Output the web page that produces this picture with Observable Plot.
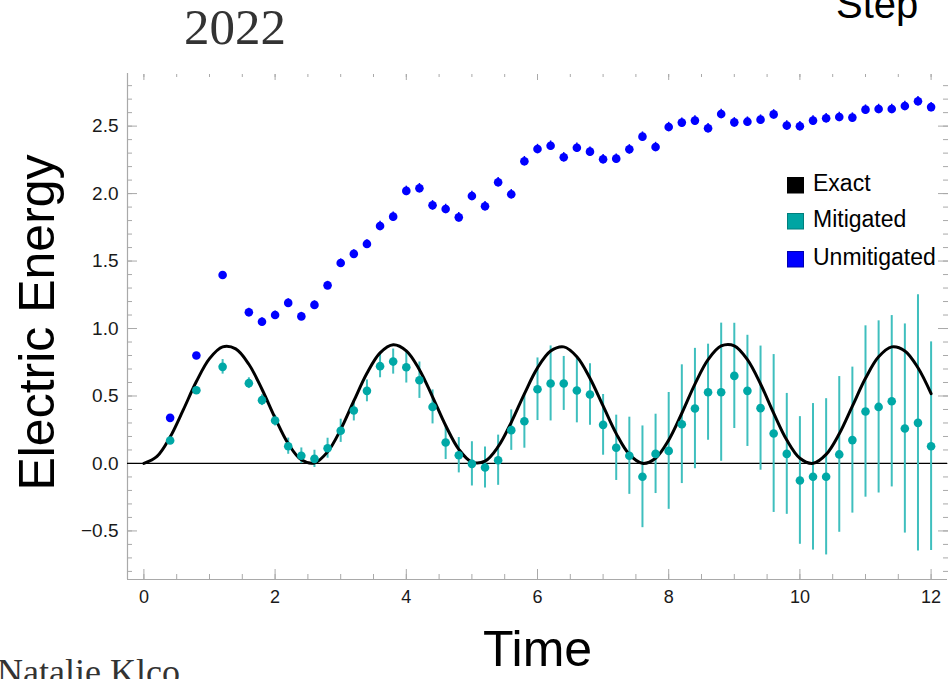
<!DOCTYPE html>
<html>
<head>
<meta charset="utf-8">
<script src="https://cdn.jsdelivr.net/npm/d3@7"></script>
<script src="https://cdn.jsdelivr.net/npm/@observablehq/plot@0.6"></script>
<style>
  html, body { margin: 0; padding: 0; background: #fff; }
  #wrap { position: relative; width: 948px; height: 679px; overflow: hidden; background: #fff; }
  #wrap > svg { position: absolute; left: 0; top: 0; }
</style>
</head>
<body>
<div id="wrap"></div>
<script>
// ---------- data ----------
const exactT = [0,0.2,0.4,0.6,0.8,1.0,1.2,1.4,1.6,1.8,2.0,2.2,2.4,2.6,2.8,3.0,3.2,3.4,3.6,3.8,4.0,4.2,4.4,4.6,4.8,5.0,5.2,5.4,5.6,5.8,6.0,6.2,6.4,6.6,6.8,7.0,7.2,7.4,7.6,7.8,8.0,8.2,8.4,8.6,8.8,9.0,9.2,9.4,9.6,9.8,10.0,10.2,10.4,10.6,10.8,11.0,11.2,11.4,11.6,11.8,12.0];
const exactE = [0,0.052,0.196,0.397,0.607,0.777,0.864,0.849,0.735,0.550,0.337,0.147,0.027,0.004,0.086,0.252,0.463,0.669,0.820,0.880,0.835,0.695,0.494,0.281,0.105,0.010,0.017,0.124,0.305,0.516,0.708,0.833,0.864,0.791,0.632,0.426,0.221,0.067,0.001,0.039,0.173,0.372,0.588,0.769,0.871,0.872,0.769,0.589,0.373,0.174,0.039,0.001,0.067,0.220,0.425,0.631,0.790,0.864,0.834,0.709,0.517];

const times = [0.4,0.8,1.2,1.6,1.8,2.0,2.2,2.4,2.6,2.8,3.0,3.2,3.4,3.6,3.8,4.0,4.2,4.4,4.6,4.8,5.0,5.2,5.4,5.6,5.8,6.0,6.2,6.4,6.6,6.8,7.0,7.2,7.4,7.6,7.8,8.0,8.2,8.4,8.6,8.8,9.0,9.2,9.4,9.6,9.8,10.0,10.2,10.4,10.6,10.8,11.0,11.2,11.4,11.6,11.8,12.0];

const mitigated = [0.170,0.543,0.716,0.595,0.469,0.318,0.128,0.057,0.034,0.113,0.242,0.392,0.538,0.721,0.755,0.713,0.617,0.419,0.155,0.061,-0.003,-0.030,0.024,0.247,0.313,0.550,0.593,0.593,0.541,0.511,0.286,0.116,0.057,-0.099,0.071,0.093,0.291,0.407,0.528,0.528,0.649,0.538,0.410,0.222,0.071,-0.126,-0.099,-0.099,0.067,0.173,0.385,0.419,0.461,0.259,0.301,0.128];
const mitigatedErr = [0.010,0.020,0.054,0.040,0.040,0.040,0.060,0.058,0.064,0.074,0.086,0.077,0.081,0.086,0.093,0.117,0.135,0.126,0.126,0.131,0.164,0.152,0.186,0.150,0.200,0.232,0.278,0.200,0.240,0.228,0.225,0.242,0.286,0.377,0.294,0.433,0.440,0.446,0.356,0.512,0.390,0.412,0.460,0.585,0.448,0.473,0.543,0.579,0.577,0.541,0.635,0.638,0.635,0.775,0.950,0.773];

const unmitigated = [0.338,0.800,1.397,1.120,1.050,1.100,1.190,1.090,1.175,1.320,1.486,1.553,1.627,1.760,1.829,2.020,2.040,1.913,1.886,1.824,1.982,1.906,2.084,1.995,2.240,2.330,2.355,2.269,2.340,2.311,2.254,2.259,2.328,2.422,2.345,2.493,2.526,2.541,2.484,2.590,2.528,2.533,2.548,2.587,2.504,2.499,2.541,2.558,2.568,2.563,2.622,2.627,2.627,2.649,2.684,2.641];
const unmitigatedErr = [0.01,0.01,0.02,0.03,0.03,0.03,0.03,0.03,0.03,0.03,0.03,0.03,0.03,0.035,0.035,0.035,0.035,0.035,0.035,0.035,0.035,0.035,0.035,0.035,0.035,0.035,0.035,0.035,0.035,0.035,0.035,0.035,0.035,0.035,0.035,0.035,0.035,0.035,0.035,0.035,0.035,0.035,0.035,0.035,0.035,0.035,0.035,0.035,0.035,0.035,0.035,0.035,0.035,0.035,0.035,0.035];

const xMajor = [0,2,4,6,8,10,12];
const xMinor = [0,0.5,1,1.5,2,2.5,3,3.5,4,4.5,5,5.5,6,6.5,7,7.5,8,8.5,9,9.5,10,10.5,11,11.5,12];
const yMajor = [-0.5,0,0.5,1.0,1.5,2.0,2.5];
const yMinor = [-0.8,-0.7,-0.6,-0.5,-0.4,-0.3,-0.2,-0.1,0,0.1,0.2,0.3,0.4,0.5,0.6,0.7,0.8,0.9,1.0,1.1,1.2,1.3,1.4,1.5,1.6,1.7,1.8,1.9,2.0,2.1,2.2,2.3,2.4,2.5,2.6,2.7,2.8];

const legendLabels = ["Exact", "Mitigated", "Unmitigated"];
const legendColors = ["#000000", "#00a5a3", "#0000ff"];
const legendBorders = ["#000000", "#007f7d", "#0000b0"];

const xDomain = [-0.25, 12.25];
const yDomain = [-0.86, 2.89];

// ---------- build tables ----------
const exact = exactT.map((t, i) => ({t, e: exactE[i]}));
const mit = times.map((t, i) => ({t, y: mitigated[i], err: mitigatedErr[i]}));
const unm = times.map((t, i) => ({t, y: unmitigated[i], err: unmitigatedErr[i]}));

const frameGray = "#a9a9a9";
const tealDot = "#00a8a6";
const tealBar = "#3fbfbe";
const blue = "#0000ff";
const fmtY = d => (d < 0 ? "\u2212" + Math.abs(d).toFixed(1) : d.toFixed(1));

const chart = Plot.plot({
  width: 948,
  height: 679,
  marginLeft: 127,
  marginRight: 1,
  marginTop: 73,
  marginBottom: 100,
  x: {domain: xDomain},
  y: {domain: yDomain},
  style: {fontFamily: "'Liberation Sans', Arial, sans-serif", background: "transparent", overflow: "visible"},
  marks: [
    // frame lines (left and bottom)
    Plot.ruleX([xDomain[0]], {stroke: frameGray, strokeWidth: 1.2}),
    Plot.ruleY([yDomain[0]], {stroke: frameGray, strokeWidth: 1.2}),
    // inward ticks
    Plot.axisX(xMinor, {anchor: "bottom", tickSize: -5, tickFormat: () => "", stroke: frameGray, label: null}),
    Plot.axisX(xMajor, {anchor: "bottom", tickSize: -10, tickFormat: () => "", stroke: frameGray, label: null}),
    Plot.axisX(xMinor, {anchor: "top", tickSize: -3, tickFormat: () => "", stroke: frameGray, label: null}),
    Plot.axisX(xMajor, {anchor: "top", tickSize: -6, tickFormat: () => "", stroke: frameGray, label: null}),
    Plot.axisY(yMinor, {anchor: "left", tickSize: -5, tickFormat: () => "", stroke: frameGray, label: null}),
    Plot.axisY(yMajor, {anchor: "left", tickSize: -10, tickFormat: () => "", stroke: frameGray, label: null}),
    Plot.axisY(yMinor, {anchor: "right", tickSize: -5, tickFormat: () => "", stroke: frameGray, label: null}),
    Plot.axisY(yMajor, {anchor: "right", tickSize: -10, tickFormat: () => "", stroke: frameGray, label: null}),
    // tick labels
    Plot.axisX(xMajor, {anchor: "bottom", tickSize: 0, tickPadding: 11, fontSize: 18, fill: "#1a1a1a", label: null, tickFormat: d => String(d)}),
    Plot.axisY(yMajor, {anchor: "left", tickSize: 0, tickPadding: 9, fontSize: 19, fill: "#1a1a1a", label: null, tickFormat: fmtY}),
    // zero line
    Plot.ruleY([0], {stroke: "#000", strokeWidth: 1.3}),
    // mitigated error bars
    Plot.ruleX(mit, {x: "t", y1: d => d.y - d.err, y2: d => d.y + d.err, stroke: tealBar, strokeWidth: 2}),
    // unmitigated error bars
    Plot.ruleX(unm, {x: "t", y1: d => d.y - d.err, y2: d => d.y + d.err, stroke: blue, strokeWidth: 1.5}),
    // exact curve
    Plot.line(exact, {x: "t", y: "e", stroke: "#000", strokeWidth: 3, curve: "catmull-rom"}),
    // points
    Plot.dot(mit, {x: "t", y: "y", r: 4.3, fill: tealDot, stroke: "none"}),
    Plot.dot(unm, {x: "t", y: "y", r: 4.3, fill: blue, stroke: "none"}),
    // axis titles
    Plot.text(["Time"], {text: d => d, frameAnchor: "bottom", dy: 86, lineAnchor: "bottom", fontSize: 50, fill: "#000"}),
    Plot.text(["Electric Energy"], {text: d => d, frameAnchor: "left", textAnchor: "middle", dx: -74, dy: -4, rotate: -90, lineAnchor: "bottom", fontSize: 50, fill: "#000"})
  ]
});

const wrap = document.getElementById("wrap");
wrap.appendChild(chart);

// ---------- overlay: legend and surrounding slide text ----------
const ns = "http://www.w3.org/2000/svg";
const ov = document.createElementNS(ns, "svg");
ov.setAttribute("width", 948);
ov.setAttribute("height", 679);
ov.style.overflow = "hidden";
function addText(str, x, y, size, family, fill) {
  const t = document.createElementNS(ns, "text");
  t.setAttribute("x", x);
  t.setAttribute("y", y);
  t.setAttribute("font-size", size);
  t.setAttribute("font-family", family);
  t.setAttribute("fill", fill);
  t.textContent = str;
  ov.appendChild(t);
}
const legendTop = [177, 213, 251];
legendLabels.forEach((lab, i) => {
  const r = document.createElementNS(ns, "rect");
  r.setAttribute("x", 787.5);
  r.setAttribute("y", legendTop[i] + 0.5);
  r.setAttribute("width", 16);
  r.setAttribute("height", 15.5);
  r.setAttribute("fill", legendColors[i]);
  r.setAttribute("stroke", legendBorders[i]);
  r.setAttribute("stroke-width", 1);
  ov.appendChild(r);
  addText(lab, 813, legendTop[i] + 14, 23, "'Liberation Sans', Arial, sans-serif", "#000");
});
addText("2022", 184, 44, 51, "'Liberation Serif', 'Times New Roman', serif", "#333");
addText("Step", 836, 18, 40, "'Liberation Sans', Arial, sans-serif", "#000");
addText("Natalie Klco", -3, 684, 36, "'Liberation Serif', 'Times New Roman', serif", "#333");
wrap.appendChild(ov);
</script>
</body>
</html>
